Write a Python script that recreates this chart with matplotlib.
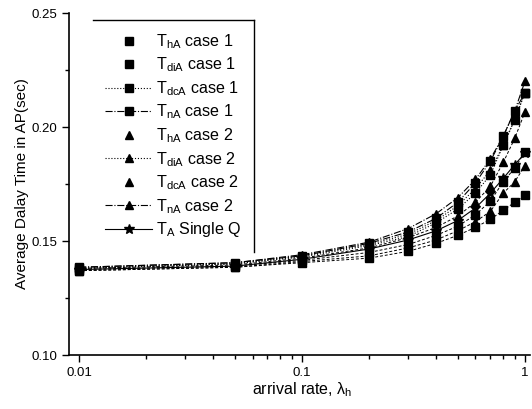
import matplotlib.pyplot as plt
from matplotlib.lines import Line2D

plt.rcParams['font.family'] = ['Liberation Sans', 'DejaVu Sans']
plt.rcParams['mathtext.default'] = 'regular'

# --- data ---
rate = [0.01, 0.05, 0.1, 0.2, 0.3, 0.4, 0.5, 0.6, 0.7, 0.8, 0.9, 1.0]

t_h_c1 = [0.1370, 0.1385, 0.1405, 0.1425, 0.1455, 0.1490, 0.1525, 0.1560, 0.1595, 0.1635, 0.1670, 0.1700]
t_di_c1 = [0.1375, 0.1390, 0.1415, 0.1450, 0.1485, 0.1525, 0.1565, 0.1615, 0.1675, 0.1760, 0.1820, 0.1890]
t_dc_c1 = [0.1380, 0.1400, 0.1430, 0.1480, 0.1520, 0.1580, 0.1640, 0.1710, 0.1790, 0.1920, 0.2030, 0.2150]
t_n_c1 = [0.1385, 0.1405, 0.1435, 0.1490, 0.1540, 0.1600, 0.1670, 0.1755, 0.1850, 0.1960, 0.2070, 0.2150]
t_h_c2 = [0.1370, 0.1385, 0.1410, 0.1435, 0.1470, 0.1505, 0.1545, 0.1585, 0.1630, 0.1710, 0.1760, 0.1830]
t_di_c2 = [0.1380, 0.1400, 0.1435, 0.1485, 0.1530, 0.1590, 0.1655, 0.1730, 0.1810, 0.1920, 0.2035, 0.2150]
t_dc_c2 = [0.1380, 0.1395, 0.1425, 0.1470, 0.1515, 0.1560, 0.1610, 0.1670, 0.1740, 0.1845, 0.1950, 0.2065]
t_n_c2 = [0.1385, 0.1405, 0.1440, 0.1495, 0.1555, 0.1620, 0.1690, 0.1770, 0.1860, 0.1960, 0.2070, 0.2200]
t_single = [0.1375, 0.1390, 0.1420, 0.1465, 0.1505, 0.1545, 0.1590, 0.1645, 0.1710, 0.1775, 0.1835, 0.1885]

labels = ['T$_{hA}$ case 1', 'T$_{diA}$ case 1', 'T$_{dcA}$ case 1', 'T$_{nA}$ case 1',
          'T$_{hA}$ case 2', 'T$_{diA}$ case 2', 'T$_{dcA}$ case 2', 'T$_{nA}$ case 2',
          'T$_{A}$ Single Q']
series = [t_h_c1, t_di_c1, t_dc_c1, t_n_c1, t_h_c2, t_di_c2, t_dc_c2, t_n_c2, t_single]
markers = ['s', 's', 's', 's', '^', '^', '^', '^', '*']
styles = ['none', 'none', ':', '-.', 'none', ':', 'none', '-.', '-']

fig = plt.figure(figsize=(5.32, 4.09), dpi=100)
ax = fig.add_axes([0.130, 0.132, 0.866, 0.836])

for vals, lab, mk, ls in zip(series, labels, markers, styles):
    if ls == 'none':
        # connecting line drawn on its own so the legend shows the marker only
        ax.plot(rate, vals, linestyle=(0, (3, 2)), color='black', linewidth=0.7)
    ax.plot(rate, vals, linestyle=ls, marker=mk, color='black', linewidth=0.8,
            markersize=6 if mk != '*' else 7.5, label=lab)

ax.set_xscale('log')
ax.set_xlim(0.00902, 1.053)
ax.set_ylim(0.10, 0.25)
ax.set_xticks([0.01, 0.1, 1])
ax.set_xticklabels(['0.01', '0.1', '1'])
ax.set_yticks([0.10, 0.15, 0.20, 0.25])
ax.set_yticklabels(['0.10', '0.15', '0.20', '0.25'])
ax.set_yticks([0.125, 0.175, 0.225], minor=True)
ax.tick_params(which='both', direction='out', labelsize=9.5, width=1)
ax.tick_params(which='major', length=5)
ax.tick_params(which='minor', length=3)
ax.spines['top'].set_visible(False)
ax.spines['right'].set_visible(False)
ax.spines['left'].set_linewidth(1.2)
ax.spines['bottom'].set_linewidth(1.2)

ax.set_xlabel('arrival rate, $\\lambda_h$', fontsize=11.5)
ax.xaxis.set_label_coords(0.505, -0.075)
ax.set_ylabel('Average Dalay Time in AP(sec)', fontsize=11, labelpad=2)

leg = ax.legend(loc='upper left', bbox_to_anchor=(0.052, 0.9795), borderaxespad=0,
                fontsize=11.6, frameon=False,
                handlelength=2.9, handletextpad=0.25, labelspacing=0.3,
                borderpad=0.75)

# only the top and right edges of the legend box show in the original
fig.canvas.draw()
bb = leg.get_window_extent().transformed(fig.transFigure.inverted())
fig.add_artist(Line2D([bb.x0, bb.x1], [bb.y1, bb.y1], color='black', linewidth=1.0))
fig.add_artist(Line2D([bb.x1, bb.x1], [bb.y0, bb.y1], color='black', linewidth=1.0))

plt.savefig('out.png', dpi=100)
